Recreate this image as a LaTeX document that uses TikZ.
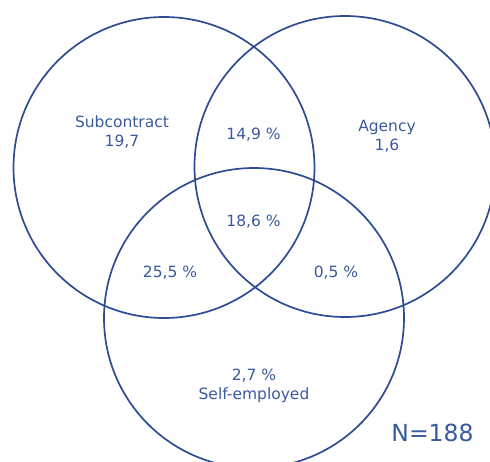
\documentclass[tikz,border=0pt]{standalone}
\usepackage{fontspec}
\setmainfont{DejaVu Sans}
\definecolor{vennblue}{HTML}{2C4C94}
\definecolor{labelblue}{HTML}{3A5A9E}
\tikzset{
  ring/.style={draw=vennblue, line width=1.7pt},
  lbl/.style={text=labelblue, align=center, font=\fontsize{15.5}{19}\selectfont, inner sep=0pt}
}
\begin{document}
\begin{tikzpicture}[x=1pt,y=-1pt]
\useasboundingbox (0,0) rectangle (490,461);
\clip (0,0) rectangle (490,461);
% the three sets
\draw[ring] (164,167.5) circle[radius=150.5];
\draw[ring] (345,166.5) circle[radius=150.5];
\draw[ring] (254,318) circle[radius=150];
% labels
\node[lbl] (sub) at (122,132) {Subcontract\\19,7};
\node[lbl] (agy) at (387,136) {Agency\\1,6};
\node[lbl] (sa) at (253.5,135) {14,9 \%};
\node[lbl] (all) at (253.5,222) {18,6 \%};
\node[lbl] (ss) at (170,273) {25,5 \%};
\node[lbl] (as) at (336,273) {0,5 \%};
\node[lbl] (self) at (254,386) {2,7 \%\\Self-employed};
\node[lbl, font=\fontsize{23.5}{28}\selectfont] (n) at (432.5,432.5) {N=188};
\end{tikzpicture}
\end{document}
